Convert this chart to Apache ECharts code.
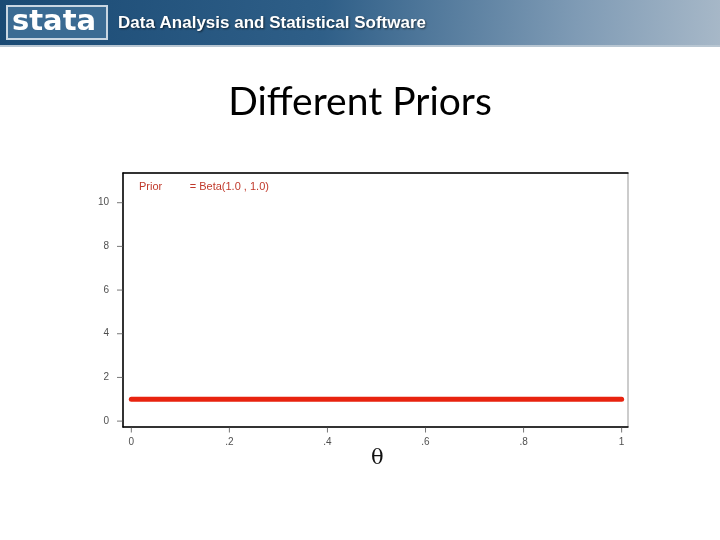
<!DOCTYPE html>
<html>
<head>
<meta charset="utf-8">
<script src="https://cdn.jsdelivr.net/npm/echarts@6/dist/echarts.min.js"></script>
<style>
  html, body { margin: 0; padding: 0; background: #fff; }
  #chart { width: 720px; height: 540px; }
</style>
</head>
<body>
<div id="chart"></div>
<script>
// prior density Beta(1,1) on theta
const thetaValues = [0, 1];
const priorDensity = [1, 1];
const xTicks = [0, 0.2, 0.4, 0.6, 0.8, 1];
const yTicks = [0, 2, 4, 6, 8, 10];

const chart = echarts.init(document.getElementById("chart"));

function fmtX(v) {
  if (v === 0) return "0";
  if (v === 1) return "1";
  return String(Math.round(v * 10) / 10).replace(/^0/, "");
}

const option = {
  animation: false,
  backgroundColor: "#fff",
  graphic: [
    {
      type: "rect",
      shape: { x: 0, y: 0, width: 720, height: 47 },
      style: {
        fill: new echarts.graphic.LinearGradient(0, 0, 1, 1, [
          { offset: 0, color: "#1a4a74" },
          { offset: 0.45, color: "#2f5f88" },
          { offset: 0.8, color: "#7f9bb5" },
          { offset: 1, color: "#a7b8c8" },
        ]),
      },
      silent: true,
    },
    {
      type: "rect",
      shape: { x: 0, y: 45, width: 720, height: 2 },
      style: { fill: "#b8c6d2" },
      silent: true,
    },
    {
      type: "rect",
      shape: { x: 7, y: 6, width: 100, height: 33 },
      style: { fill: "#3b6b93", stroke: "#c9d6e2", lineWidth: 2 },
      silent: true,
    },
    {
      type: "text",
      left: 12,
      top: 8,
      style: {
        text: "stata",
        fill: "#fff",
        font: "bold 29px 'DejaVu Sans'",
      },
      silent: true,
    },
    {
      type: "text",
      left: 118,
      top: 15,
      style: {
        text: "Data Analysis and Statistical Software",
        fill: "#fff",
        font: "bold 17px 'Liberation Sans'",
        textShadowColor: "rgba(0,0,0,0.6)",
        textShadowBlur: 2,
        textShadowOffsetX: 1,
        textShadowOffsetY: 1,
      },
      silent: true,
    },
    {
      type: "text",
      left: "center",
      top: 83,
      style: {
        text: "Different Priors",
        fill: "#000",
        font: "39px Lato",
      },
      silent: true,
    },
  ],
  title: {
    text: "θ",
    left: 366,
    top: 443,
    textStyle: { fontFamily: "DejaVu Serif", fontSize: 21, fontWeight: "normal", color: "#111" },
  },
  legend: {
    left: 134,
    top: 180,
    padding: 0,
    icon: "none",
    itemWidth: 0,
    itemGap: 0,
    formatter: function () {
      return "Prior         = Beta(1.0 , 1.0)";
    },
    textStyle: { color: "#c0392b", fontFamily: "Liberation Sans", fontSize: 11 },
  },
  grid: {
    left: 123,
    top: 173,
    right: 92,
    bottom: 113,
    show: true,
    borderColor: "#999",
    borderWidth: 1,
  },
  xAxis: [
    {
      type: "value",
      min: -0.017,
      max: 1.013,
      interval: 0.2,
      axisLine: { onZero: false, lineStyle: { color: "#000", width: 1.5 } },
      axisTick: { show: false },
      splitLine: { show: false },
      axisLabel: { show: false },
    },
    {
      type: "value",
      position: "top",
      min: -0.017,
      max: 1.013,
      axisLine: { show: true, onZero: false, lineStyle: { color: "#000", width: 1.5 } },
      axisTick: { show: false },
      axisLabel: { show: false },
      splitLine: { show: false },
    },
  ],
  yAxis: {
    type: "value",
    min: -0.27,
    max: 11.36,
    axisLine: { show: true, onZero: false, lineStyle: { color: "#000", width: 1.5 } },
    axisTick: { show: false },
    axisLabel: { show: false },
    splitLine: { show: false },
  },
  series: [
    {
      name: "Prior",
      type: "line",
      data: thetaValues.map((t, i) => [t, priorDensity[i]]),
      showSymbol: false,
      lineStyle: { color: "#e8230f", width: 5, cap: "round" },
      itemStyle: { color: "#e8230f" },
    },
    {
      // x ticks and labels
      name: "xticks",
      type: "scatter",
      data: xTicks.map((v) => [v, -0.27]),
      symbol: "rect",
      symbolSize: [1, 5],
      symbolOffset: [0, 3],
      itemStyle: { color: "#555" },
      label: {
        show: true,
        position: "bottom",
        distance: 5,
        formatter: (p) => fmtX(p.value[0]),
        color: "#222",
        fontFamily: "Liberation Sans",
        fontSize: 10,
      },
      silent: true,
      clip: false,
    },
    {
      name: "yticks",
      type: "scatter",
      data: yTicks.map((v) => [-0.017, v]),
      symbol: "rect",
      symbolSize: [6, 1],
      symbolOffset: [-3, 0],
      itemStyle: { color: "#555" },
      label: {
        show: true,
        position: "left",
        distance: 8,
        formatter: (p) => String(p.value[1]),
        color: "#222",
        fontFamily: "Liberation Sans",
        fontSize: 10,
      },
      silent: true,
      clip: false,
    },
  ],
};
option.legend.data = ["Prior"];
chart.setOption(option);
</script>
</body>
</html>
